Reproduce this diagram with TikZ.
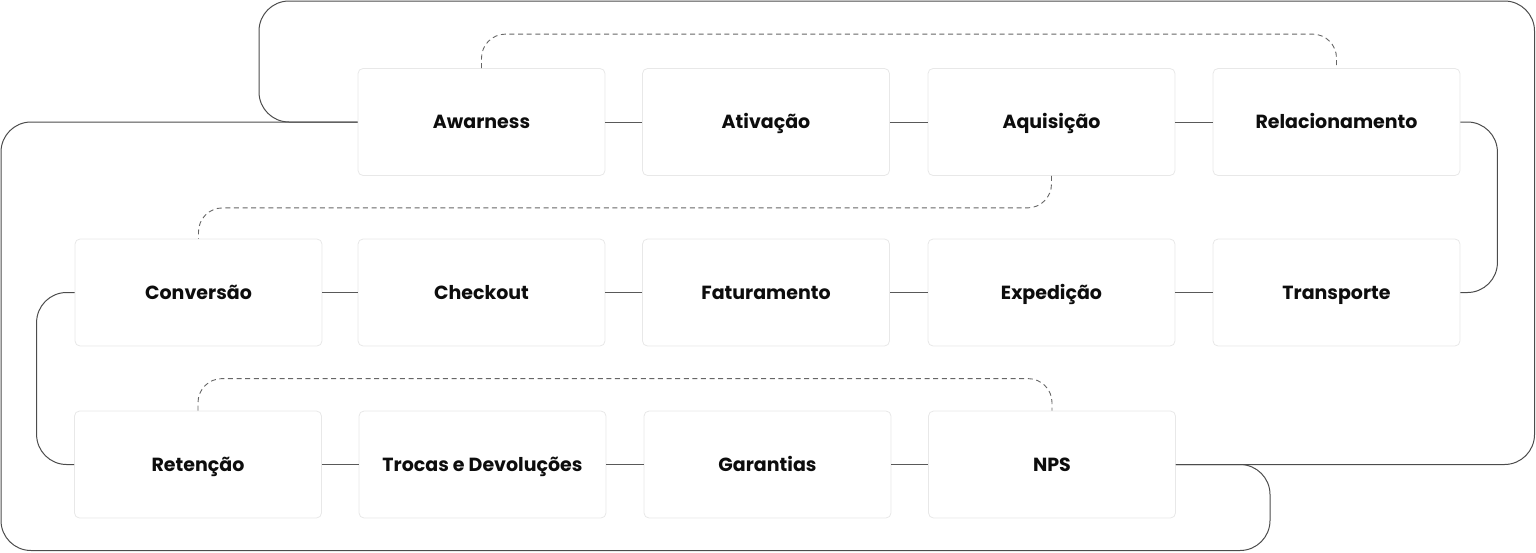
\documentclass[tikz,border=0pt]{standalone}
\usepackage{fontspec}
\setmainfont{Poppins}
\begin{document}
\begin{tikzpicture}[x=0.5pt,y=-0.5pt,
      every node/.style={draw=black!9, fill=white, rounded corners=2.5pt, minimum width=123.5pt, minimum height=53.5pt, inner sep=0pt, text height=8pt, text depth=1.2pt, text=black!95, font=\bfseries\fontsize{9.5}{11}\selectfont},
      link/.style={draw=black!65, line width=0.5pt},
      wrap/.style={draw=black!70, line width=0.5pt, rounded corners=15pt},
      jump/.style={draw=black!60, line width=0.45pt, dash pattern=on 2.5pt off 1.8pt, rounded corners=12pt}
    ]
    \useasboundingbox (0,0) rectangle (1536,552);

    \node (R1N1) at (481.5,122) {Awarness};
    \node (R1N2) at (766,122) {Ativação};
    \node (R1N3) at (1051.5,122) {Aquisição};
    \node (R1N4) at (1336.5,122) {Relacionamento};

    \node (R2N1) at (198.5,292.5) {Conversão};
    \node (R2N2) at (481.5,292.5) {Checkout};
    \node (R2N3) at (766,292.5) {Faturamento};
    \node (R2N4) at (1051.5,292.5) {Expedição};
    \node (R2N5) at (1336.5,292.5) {Transporte};

    \node (R3N1) at (198,464.5) {Retenção};
    \node (R3N2) at (482.5,464.5) {Trocas e Devoluções};
    \node (R3N3) at (767.5,464.5) {Garantias};
    \node (R3N4) at (1052,464.5) {NPS};

    \draw[link] (R1N1) -- (R1N2);
    \draw[link] (R1N2) -- (R1N3);
    \draw[link] (R1N3) -- (R1N4);
    \draw[wrap] (R1N4.east) -- ++(37,0) |- (R2N5.east);
    \draw[link] (R2N5) -- (R2N4);
    \draw[link] (R2N4) -- (R2N3);
    \draw[link] (R2N3) -- (R2N2);
    \draw[link] (R2N2) -- (R2N1);
    \draw[wrap] (R2N1.west) -- ++(-38,0) |- (R3N1.west);
    \draw[link] (R3N1) -- (R3N2);
    \draw[link] (R3N2) -- (R3N3);
    \draw[link] (R3N3) -- (R3N4);

    \draw[wrap] (R3N4.east) -| (1534.5,1) -| (259,122) -- (R1N1.west);
    \draw[wrap] (R3N4.east) -| (1270,550.5) -| (1,122) -- (R1N1.west);

    \draw[jump] (R1N1.north) -- ++(0,-34) -| (R1N4.north);
    \draw[jump] (R1N3.south) -- ++(0,32) -| (R2N1.north);
    \draw[jump] (R3N1.north) -- ++(0,-32) -| (R3N4.north);
    
    \end{tikzpicture}
\end{document}
